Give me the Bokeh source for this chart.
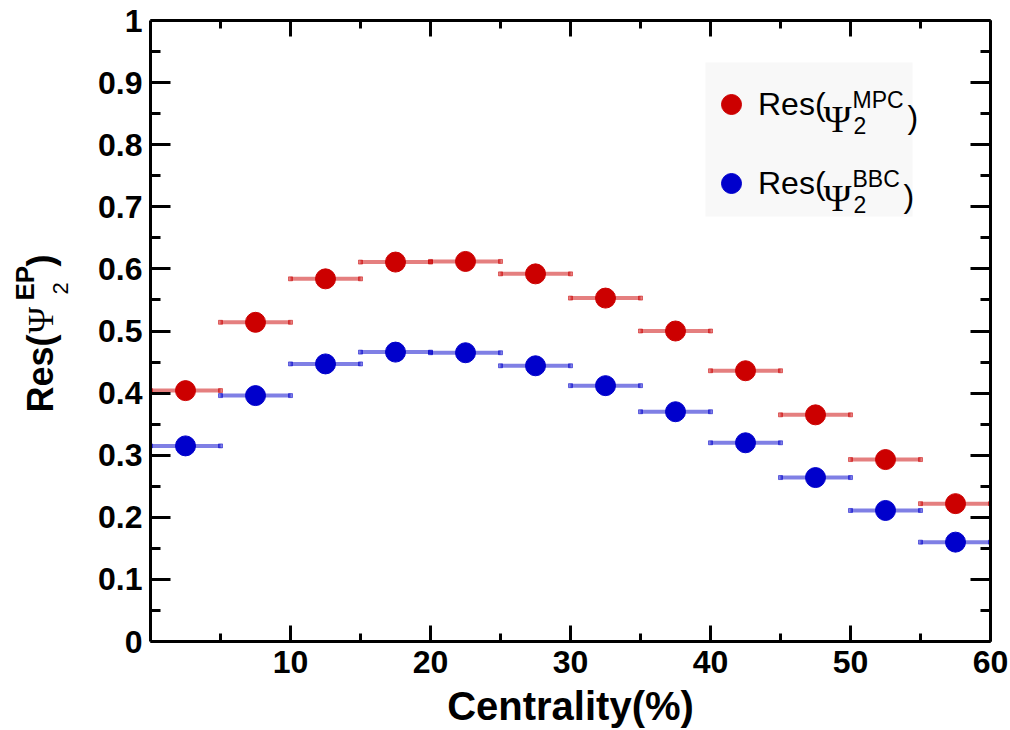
import math
from bokeh.plotting import figure
from bokeh.layouts import row, column
from bokeh.models import (LinearAxis, FixedTicker, Label, Legend, LegendItem,
                          BoxAnnotation, Range1d, CustomJSTickFormatter)
from bokeh.embed import file_html
from bokeh.resources import INLINE

# ---------------- data ----------------
cent_lo = [0, 5, 10, 15, 20, 25, 30, 35, 40, 45, 50, 55]
cent_hi = [5, 10, 15, 20, 25, 30, 35, 40, 45, 50, 55, 60]
res_mpc = [0.404, 0.514, 0.584, 0.611, 0.612, 0.592, 0.553, 0.500, 0.436, 0.365, 0.293, 0.222]
res_bbc = [0.315, 0.396, 0.447, 0.466, 0.465, 0.444, 0.412, 0.370, 0.320, 0.264, 0.211, 0.160]
x_ticks = [10, 20, 30, 40, 50, 60]
x_minor = [5, 15, 25, 35, 45, 55]
y_ticks = [0, 0.1, 0.2, 0.3, 0.4, 0.5, 0.6, 0.7, 0.8, 0.9, 1.0]
y_tick_labels = ["0", "0.1", "0.2", "0.3", "0.4", "0.5", "0.6", "0.7", "0.8", "0.9", "1"]
y_minor = [0.05, 0.15, 0.25, 0.35, 0.45, 0.55, 0.65, 0.75, 0.85, 0.95]

cent_mid = [(a + b) / 2 for a, b in zip(cent_lo, cent_hi)]

RED = "#cc0000"
BLUE = "#0000cc"

# layout (canvas px)
W, H = 1010, 730
YT_W = 95            # width of the strip holding the y title
FL, FR, FT, FB = 150, 990, 20, 642
MAIN_W = W - YT_W


def sx(X):
    return X - FL


def sy(Y):
    return FB - Y


p = figure(width=MAIN_W, height=H, output_backend="svg", toolbar_location=None,
           x_range=Range1d(0, 60), y_range=Range1d(0, 1),
           x_axis_type=None, y_axis_type=None,
           min_border_left=FL - YT_W, min_border_right=W - FR,
           min_border_top=FT, min_border_bottom=H - FB)
p.outline_line_color = None
p.grid.visible = False
p.background_fill_color = "white"
p.border_fill_color = "white"

empty_fmt = CustomJSTickFormatter(code="return ''")


def style_axis(ax, major_len, minor_len):
    ax.axis_line_width = 3
    ax.axis_line_color = "black"
    ax.major_tick_line_width = 3
    ax.minor_tick_line_width = 3
    ax.major_tick_in = major_len
    ax.major_tick_out = 0
    ax.minor_tick_in = minor_len
    ax.minor_tick_out = 0
    ax.major_label_text_font = "Liberation Sans"
    ax.major_label_text_font_style = "bold"
    ax.major_label_text_font_size = "32px"
    ax.major_label_text_color = "black"


xb = LinearAxis(ticker=FixedTicker(ticks=x_ticks, minor_ticks=x_minor))
style_axis(xb, 16, 8)
xb.major_label_standoff = 9
xb.axis_label = "Centrality(%)"
xb.axis_label_standoff = 8
xb.axis_label_text_font = "Liberation Sans"
xb.axis_label_text_font_style = "bold"
xb.axis_label_text_font_size = "40px"
xb.axis_label_text_color = "black"
p.add_layout(xb, "below")

xt = LinearAxis(ticker=FixedTicker(ticks=x_ticks, minor_ticks=x_minor), formatter=empty_fmt)
style_axis(xt, 16, 8)
p.add_layout(xt, "above")

yl = LinearAxis(ticker=FixedTicker(ticks=y_ticks, minor_ticks=y_minor))
style_axis(yl, 20, 10)
yl.major_label_standoff = 8
yl.major_label_overrides = {t: s for t, s in zip(y_ticks, y_tick_labels)}
p.add_layout(yl, "left")

yr = LinearAxis(ticker=FixedTicker(ticks=y_ticks, minor_ticks=y_minor), formatter=empty_fmt)
style_axis(yr, 20, 10)
p.add_layout(yr, "right")

# ------------- data marks -------------
for vals, col in ((res_mpc, RED), (res_bbc, BLUE)):
    p.segment(x0=cent_lo, x1=cent_hi, y0=vals, y1=vals, line_color=col,
              line_alpha=0.5, line_width=4)
    p.scatter(x=cent_lo, y=vals, marker="square", size=4, color=col, alpha=0.5)
    p.scatter(x=cent_hi, y=vals, marker="square", size=4, color=col, alpha=0.5)

r_mpc = p.scatter(x=cent_mid, y=res_mpc, size=20, color=RED, line_color=RED)
r_bbc = p.scatter(x=cent_mid, y=res_bbc, size=20, color=BLUE, line_color=BLUE)

# ------------- legend -------------
p.add_layout(BoxAnnotation(left=sx(705), right=sx(912), top=sy(63), bottom=sy(217),
                           left_units="screen", right_units="screen",
                           top_units="screen", bottom_units="screen",
                           fill_color="#f8f8f8", fill_alpha=1, line_color=None,
                           level="underlay"))

leg = Legend(items=[LegendItem(label="Res(", renderers=[r_mpc]),
                    LegendItem(label="Res(", renderers=[r_bbc])],
             location=(sx(706), sy(209)),
             glyph_width=50, glyph_height=50, label_height=50, label_width=20,
             spacing=29, padding=0, margin=0, label_standoff=2,
             border_line_color=None, background_fill_alpha=0,
             label_text_font="Liberation Sans", label_text_font_size="32px",
             label_text_color="black")
p.add_layout(leg, "center")

LEG_ROWS = [(105, "MPC", 907), (184, "BBC", 903)]
for cy, sup, rpar in LEG_ROWS:
    base = cy + 11
    p.add_layout(Label(x=sx(823), y=sy(base + 3), x_units="screen", y_units="screen",
                       text="Ψ", text_font="Liberation Serif", text_font_size="38px",
                       text_baseline="alphabetic", text_align="left", text_color="black"))
    p.add_layout(Label(x=sx(852), y=sy(base - 16), x_units="screen", y_units="screen",
                       text=sup, text_font="Liberation Sans", text_font_size="23px",
                       text_baseline="alphabetic", text_align="left", text_color="black"))
    p.add_layout(Label(x=sx(853), y=sy(base + 10), x_units="screen", y_units="screen",
                       text="2", text_font="Liberation Sans", text_font_size="23px",
                       text_baseline="alphabetic", text_align="left", text_color="black"))
    p.add_layout(Label(x=sx(rpar), y=sy(base + 1), x_units="screen", y_units="screen",
                       text=")", text_font="Liberation Sans", text_font_size="32px",
                       text_baseline="alphabetic", text_align="left", text_color="black"))

# ------------- y title (in its own strip) -------------
yfig = figure(width=YT_W, height=H, output_backend="svg", toolbar_location=None,
              x_range=Range1d(0, 1), y_range=Range1d(0, 1),
              x_axis_type=None, y_axis_type=None,
              min_border=0, min_border_left=0, min_border_right=0,
              min_border_top=0, min_border_bottom=0)
yfig.outline_line_color = None
yfig.grid.visible = False
yfig.background_fill_color = "white"
yfig.border_fill_color = "white"

A = math.pi / 2
ytitle = [
    ("Res(", 40, 412, "Liberation Sans", "bold", "36px"),
    ("Ψ", 40, 333, "Liberation Serif", "normal", "36px"),
    ("EP", 24, 300, "Liberation Sans", "bold", "26px"),
    ("2", 60, 294, "Liberation Sans", "normal", "22px"),
    (")", 40, 266, "Liberation Sans", "bold", "36px"),
]
for txt, X, Y, font, style, size in ytitle:
    yfig.add_layout(Label(x=X, y=H - Y, x_units="screen", y_units="screen",
                          text=txt, angle=A, text_font=font, text_font_style=style,
                          text_font_size=size, text_align="left", text_baseline="middle",
                          text_color="black"))

layout = row(yfig, column(p, spacing=0), spacing=0)
open("out.html", "w").write(file_html(layout, INLINE))
